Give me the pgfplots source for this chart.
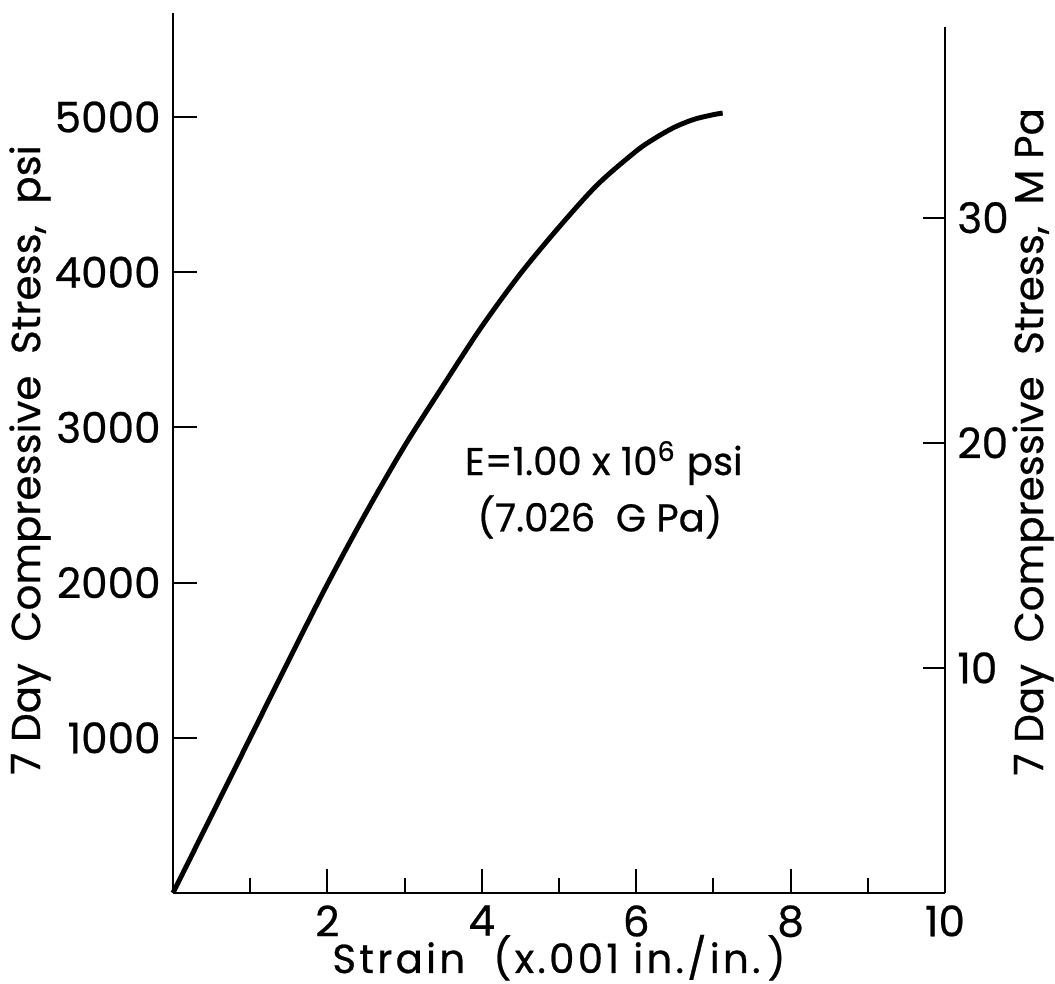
\documentclass[border=0pt]{standalone}
\usepackage{pgfplots}
\pgfplotsset{compat=1.18}
\usepackage{fontspec}
\setmainfont{Poppins}[FakeBold=0.6]

\pgfplotstableread{
x     y
0     0
0.5   500
1.0   1000
1.5   1500
2.0   1990
2.5   2450
3.0   2880
3.5   3270
4.0   3650
4.5   3990
5.0   4290
5.5   4565
6.0   4780
6.25  4865
6.5   4935
6.75  4985
7.0   5015
7.12  5025
}\curve

\begin{document}
\begin{tikzpicture}
\pgfplotsset{
  every tick label/.append style={font=\fontsize{12}{14}\selectfont},
}
\begin{axis}[
  scale only axis,
  width=7.72cm, height=8.80cm,
  xmin=0, xmax=10, ymin=0, ymax=5670,
  axis x line=bottom, axis y line=left,
  axis line style={-, line width=0.7pt},
  every tick/.style={black, line width=0.6pt},
  tick align=inside,
  major tick length=0.24cm, minor tick length=0.15cm,
  xtick={2,4,6,8,10}, minor xtick={1,3,5,7,9},
  ytick={1000,2000,3000,4000,5000},
  /pgf/number format/assume math mode=true,
  /pgf/number format/set thousands separator={},
  xlabel={Strain \ (x.001 in./in.\,)},
  ylabel={7 Day \ Compressive \ Stress, \ psi},
  every axis x label/.style={at={(axis description cs:0.5,0)}, anchor=base,
    yshift=-0.80cm, inner sep=0pt,
    font=\fontsize{11.5}{14}\selectfont\addfontfeatures{LetterSpace=8}},
  every axis y label/.style={at={(axis description cs:0,0.492)}, xshift=-1.43cm,
    rotate=90, anchor=center, inner sep=0pt, font=\fontsize{11.5}{13}\selectfont},
  clip=false,
]
\addplot[black, line width=1.4pt, smooth, tension=0.5] table[x=x, y=y] {\curve};
\node[font=\fontsize{11}{13}\selectfont] at (axis cs:5.58,2770) {E=1.00 x 10\textsuperscript{6} psi};
\node[font=\fontsize{11}{13}\selectfont] at (axis cs:5.53,2423) {(7.026 \ G Pa)};
\end{axis}
\begin{axis}[
  scale only axis,
  width=7.72cm, height=8.66cm,
  xmin=0, xmax=10, ymin=0, ymax=38.47,
  hide x axis,
  axis y line=right,
  axis line style={-, line width=0.7pt},
  every tick/.style={black, line width=0.6pt},
  tick align=inside,
  major tick length=0.22cm,
  ytick={10,20,30},
  /pgf/number format/assume math mode=true,
  ylabel={7 Day \ Compressive \ Stress, \ M Pa},
  every axis y label/.style={at={(axis description cs:1,0.521)}, xshift=0.88cm,
    rotate=90, anchor=center, inner sep=0pt, font=\fontsize{11.5}{13}\selectfont},
]
\end{axis}
\path (-1.73cm,-0.91cm) rectangle (8.82cm,8.93cm);
\end{tikzpicture}
\end{document}
